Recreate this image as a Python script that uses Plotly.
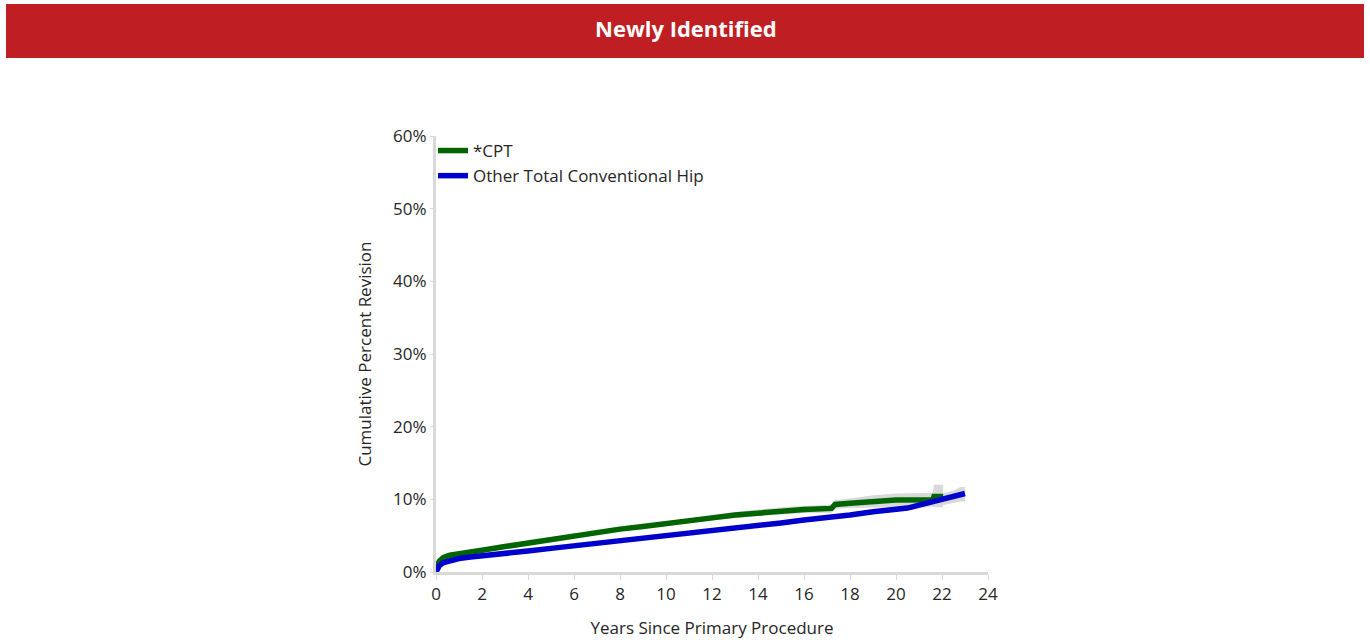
import plotly.graph_objects as go

# ---- data ----
cpt_years = [0, 0.05, 0.15, 0.33, 0.6, 1, 1.5, 2, 3, 4, 5, 6, 7, 8, 9, 10, 11, 12, 13, 14,
             15, 16, 17.2, 17.35, 18, 19, 20, 21.6, 21.65, 22.05]
cpt_rev = [0, 0.9, 1.5, 2.0, 2.3, 2.55, 2.8, 3.0, 3.5, 4.0, 4.5, 4.95, 5.45, 5.9, 6.25, 6.6, 7.0,
           7.45, 7.85, 8.15, 8.4, 8.6, 8.75, 9.3, 9.45, 9.7, 9.9, 9.95, 10.4, 10.4]
cpt_lower = [0, 0.8, 1.4, 1.9, 2.2, 2.45, 2.7, 2.9, 3.35, 3.85, 4.3, 4.75, 5.25, 5.65, 6.0, 6.3,
             6.7, 7.1, 7.45, 7.7, 7.9, 8.1, 8.15, 8.7, 8.8, 8.85, 9.0, 9.0, 8.9, 8.9]
cpt_upper = [0, 1.0, 1.6, 2.1, 2.4, 2.65, 2.9, 3.1, 3.65, 4.15, 4.7, 5.15, 5.65, 6.15, 6.5, 6.9,
             7.3, 7.8, 8.25, 8.6, 8.9, 9.1, 9.25, 9.9, 10.1, 10.55, 10.8, 10.9, 12.0, 12.0]

oth_years = [0, 0.05, 0.15, 0.33, 0.6, 1, 1.5, 2, 3, 4, 5, 6, 7, 8, 9, 10, 11, 12, 13, 14,
             15, 16, 17, 18, 19, 20, 20.5, 21, 21.5, 22, 22.5, 22.8, 23.0]
oth_rev = [0, 0.4, 0.9, 1.3, 1.6, 1.85, 2.05, 2.25, 2.6, 2.9, 3.25, 3.6, 3.9, 4.2, 4.55, 4.9,
           5.2, 5.55, 5.95, 6.35, 6.75, 7.15, 7.45, 7.85, 8.3, 8.6, 8.8, 9.2, 9.6, 10.0, 10.3,
           10.6, 10.8]
oth_lower = [0, 0.38, 0.88, 1.28, 1.58, 1.83, 2.03, 2.23, 2.57, 2.87, 3.2, 3.55, 3.85, 4.15,
             4.5, 4.85, 5.15, 5.5, 5.9, 6.3, 6.7, 7.05, 7.35, 7.7, 8.1, 8.35, 8.5, 8.8, 9.0,
             9.2, 9.5, 9.7, 9.7]
oth_upper = [0, 0.42, 0.92, 1.32, 1.62, 1.87, 2.07, 2.27, 2.63, 2.93, 3.3, 3.65, 3.95, 4.25,
             4.6, 4.95, 5.25, 5.6, 6.0, 6.4, 6.8, 7.25, 7.55, 8.0, 8.5, 8.85, 9.1, 9.6, 10.2,
             10.8, 11.2, 11.7, 11.7]

series_names = ["*CPT", "Other Total Conventional Hip"]
x_ticks = list(range(0, 25, 2))
y_ticks = [0, 10, 20, 30, 40, 50, 60]
y_tick_labels = ["0%", "10%", "20%", "30%", "40%", "50%", "60%"]

GREEN = "#006400"
BLUE = "#0000CD"
CI = "#D9D9D9"
FONT = "Open Sans"
TXT = "#262626"

fig = go.Figure()

# confidence bands
for xs, lo, hi in [(cpt_years, cpt_lower, cpt_upper), (oth_years, oth_lower, oth_upper)]:
    fig.add_trace(go.Scatter(x=xs, y=lo, mode="lines", line=dict(width=0, color=CI),
                             showlegend=False, hoverinfo="skip"))
    fig.add_trace(go.Scatter(x=xs, y=hi, mode="lines", line=dict(width=0, color=CI),
                             fill="tonexty", fillcolor=CI, showlegend=False, hoverinfo="skip"))

fig.add_trace(go.Scatter(x=cpt_years, y=cpt_rev, mode="lines", name=series_names[0],
                         line=dict(color=GREEN, width=5.5)))
fig.add_trace(go.Scatter(x=oth_years, y=oth_rev, mode="lines", name=series_names[1],
                         line=dict(color=BLUE, width=5.5)))

# plot area in pixels: x 436..988, y 136..572
L, R, T, B = 436, 988, 136, 572
W, H = R - L, B - T


def px(x):
    return (x - L) / W


def py(y):
    return (B - y) / H


fig.add_shape(type="rect", xref="paper", yref="paper",
              x0=px(6), x1=px(1364), y0=py(58), y1=py(4),
              fillcolor="#BF1E22", line=dict(width=0), layer="below")
fig.add_annotation(xref="paper", yref="paper", x=px(686), y=py(28), text="<b>Newly Identified</b>",
                   showarrow=False, font=dict(family=FONT, size=22, color="white"),
                   xanchor="center", yanchor="middle")

fig.update_layout(
    width=1370, height=644,
    margin=dict(l=L, r=1370 - R, t=T, b=644 - B, autoexpand=False),
    paper_bgcolor="white", plot_bgcolor="white",
    font=dict(family=FONT, size=17, color=TXT),
    showlegend=True,
    legend=dict(x=px(433), y=py(133), xanchor="left", yanchor="top",
                bgcolor="rgba(0,0,0,0)", font=dict(size=17, color=TXT),
                itemwidth=30, tracegroupgap=0, traceorder="normal"),
    xaxis=dict(range=[0, 24], tickmode="array", tickvals=x_ticks, showgrid=False,
               zeroline=False, showline=True, linecolor="#D9D9D9", linewidth=3,
               ticks="outside", ticklen=5, tickcolor="#D9D9D9", tickwidth=1,
               title=dict(text="Years Since Primary Procedure", standoff=18,
                          font=dict(size=17)),
               tickfont=dict(size=17)),
    yaxis=dict(range=[0, 60], tickmode="array", tickvals=y_ticks, ticktext=y_tick_labels,
               showgrid=False, zeroline=False, showline=True, linecolor="#D9D9D9",
               linewidth=3, ticks="outside", ticklen=3, tickcolor="#D9D9D9",
               title=dict(text="Cumulative Percent Revision", standoff=18,
                          font=dict(size=17)),
               tickfont=dict(size=17)),
)

fig.write_html("out.html", config={"displayModeBar": False},
               post_script="document.body.style.margin='0px';")
